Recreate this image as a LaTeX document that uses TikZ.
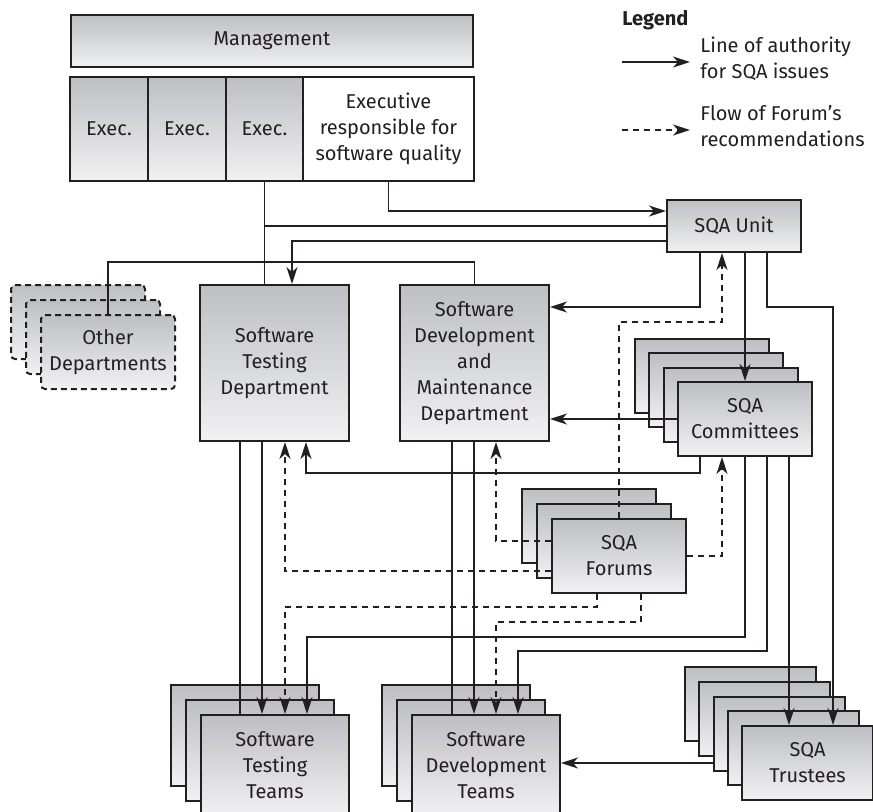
\documentclass[tikz,border=0pt]{standalone}
\usepackage{fontspec}
\setmainfont{Fira Sans}
\usetikzlibrary{arrows.meta, positioning, calc}
\definecolor{boxtop}{RGB}{190,191,195}
\definecolor{boxbot}{RGB}{241,241,242}
\definecolor{inkgray}{RGB}{35,31,32}

\begin{document}
\begin{tikzpicture}[
        x=0.5pt, y=-0.5pt,
        font=\fontsize{10}{13}\selectfont,
        every node/.style={text=inkgray},
        box/.style={rectangle, draw=inkgray, line width=1pt,
                    top color=boxtop, bottom color=boxbot,
                    inner sep=0pt, anchor=north west, align=center,
                    minimum width=67pt, minimum height=37pt},
        exec/.style={box, outer sep=0pt, minimum width=39pt, minimum height=52pt},
        obox/.style={box, dash pattern=on 3pt off 2pt, rounded corners=2pt},
        dept/.style={box, minimum width=74.5pt, minimum height=78pt},
        team/.style={box, minimum width=74pt, minimum height=50.5pt},
        link/.style={line width=0.75pt, draw=inkgray},
        arrow/.style={link, -{Stealth[length=8.5pt, width=5.5pt, inset=2.5pt]}},
        flow/.style={arrow, dash pattern=on 3pt off 2.5pt}
      ]
        \useasboundingbox (0,0) rectangle (873,811);

        % management and executives
        \node[box, minimum width=201pt, minimum height=26pt] (mgmt) at (70,14) {Management};
        \node[exec] (ex1) at (70,77) {Exec.};
        \node[exec, right=0pt of ex1] (ex2) {Exec.};
        \node[exec, right=0pt of ex2, minimum width=38.5pt] (ex3) {Exec.};
        \node[exec, right=0pt of ex3, top color=white, bottom color=white,
              minimum width=85.5pt] (exq) {Executive\\responsible for\\software quality};

        % legend
        \node[anchor=west, inner sep=0pt, font=\fontsize{10}{13}\selectfont\bfseries]
              (legend) at (622,20) {Legend};
        \node[anchor=west, inner sep=0pt, align=left] (leg1) at (700,59) {Line of authority\\for SQA issues};
        \node[anchor=west, inner sep=0pt, align=left] (leg2) at (700,126) {Flow of Forum’s\\recommendations};
        \coordinate (ls1) at (622,62);
        \coordinate (le1) at (690,62);
        \coordinate (ls2) at (622,130);
        \coordinate (le2) at (690,130);
        \draw[arrow] (ls1) -- (le1);
        \draw[flow]  (ls2) -- (le2);

        % departments and units
        \foreach \i in {2,1}
          \node[obox] (od\i) at (40-15*\i, 314-15*\i) {};
        \node[obox] (od) at (40,314) {Other\\Departments};
        \node[dept] (std) at (199,284) {Software\\Testing\\Department};
        \node[dept] (sdm) at (399,284) {Software\\Development\\and\\Maintenance\\Department};
        \node[box, minimum height=26pt] (unit) at (666,199) {SQA Unit};

        \foreach \i in {3,2,1}
          \node[box] (com\i) at (677-14.5*\i, 381-14.5*\i) {};
        \node[box] (com) at (677,381) {SQA\\Committees};

        \foreach \i in {2,1}
          \node[box] (fo\i) at (551-15*\i, 518-15*\i) {};
        \node[box] (fo) at (551,518) {SQA\\Forums};

        \foreach \i in {4,3,2,1}
          \node[box, minimum width=65.5pt] (tr\i) at (741-14.25*\i, 725-14.75*\i) {};
        \node[box, minimum width=65.5pt] (tr) at (741,725) {SQA\\Trustees};

        \foreach \i in {2,1}
          \node[team] (stt\i) at (200-15*\i, 714-15*\i) {};
        \node[team] (stt) at (200,714) {Software\\Testing\\Teams};
        \foreach \i in {2,1}
          \node[team] (sdt\i) at (411-15*\i, 714-15*\i) {};
        \node[team] (sdt) at (411,714) {Software\\Development\\Teams};

        % lines of authority
        \draw[link]  (ex3.south) -- (ex3.south |- std.north);
        \draw[link]  (unit.west) -| (ex3.south);
        \draw[arrow] (exq.south) |- ($(unit.west)+(0,-15)$);
        \draw[arrow] ($(unit.west)+(0,15)$) -| (std.north -| 292,0);
        \draw[link]  (od.north) -- ++(0,-52) -| (sdm.north);

        \draw[arrow] (unit.south -| 700,0) |- (sdm.east |- 0,307);
        \draw[arrow] (unit.south -| com.north) -- (com.north);
        \draw[arrow] (unit.south -| 767,0) |- (833,307) -- (tr.north -| 833,0);

        \draw[arrow] (com.west) -- (com.west -| sdm.east);
        \draw[arrow] (com.south -| 700,0) |- (306,473) -- (std.south -| 306,0);
        \draw[arrow] (com.south) |- (307,637) -- (stt.north -| 307,0);
        \draw[arrow] (com.south -| 767,0) |- (518,651) -- (sdt.north -| 518,0);
        \draw[arrow] (com.south -| 789,0) -- (tr.north -| 789,0);

        \draw[link]  (std.south -| 240,0) -- (stt.north -| 240,0);
        \draw[arrow] (std.south -| 262,0) -- (stt.north -| 262,0);
        \draw[link]  (sdm.south -| 452,0) -- (sdt.north -| 452,0);
        \draw[arrow] (sdm.south -| 474,0) -- (sdt.north -| 474,0);

        \draw[arrow] (tr2.west |- tr.west) -- (tr.west -| sdt.east);

        % forum recommendations
        \draw[flow] (fo.north) |- (722,322) -- (unit.south -| 722,0);
        \draw[flow] (fo.east) -| (com.south -| 722,0);
        \draw[flow] ($(fo.west)+(0,-15)$) -| (sdm.south -| 496,0);
        \draw[flow] ($(fo.west)+(0,15)$) -| (std.south -| 285,0);
        \draw[flow] (fo.south -| 597,0) |- (285,607) -- (stt.north -| 285,0);
        \draw[flow] (fo.south -| 641,0) |- (496,622) -- (sdt.north -| 496,0);
      \end{tikzpicture}
\end{document}
